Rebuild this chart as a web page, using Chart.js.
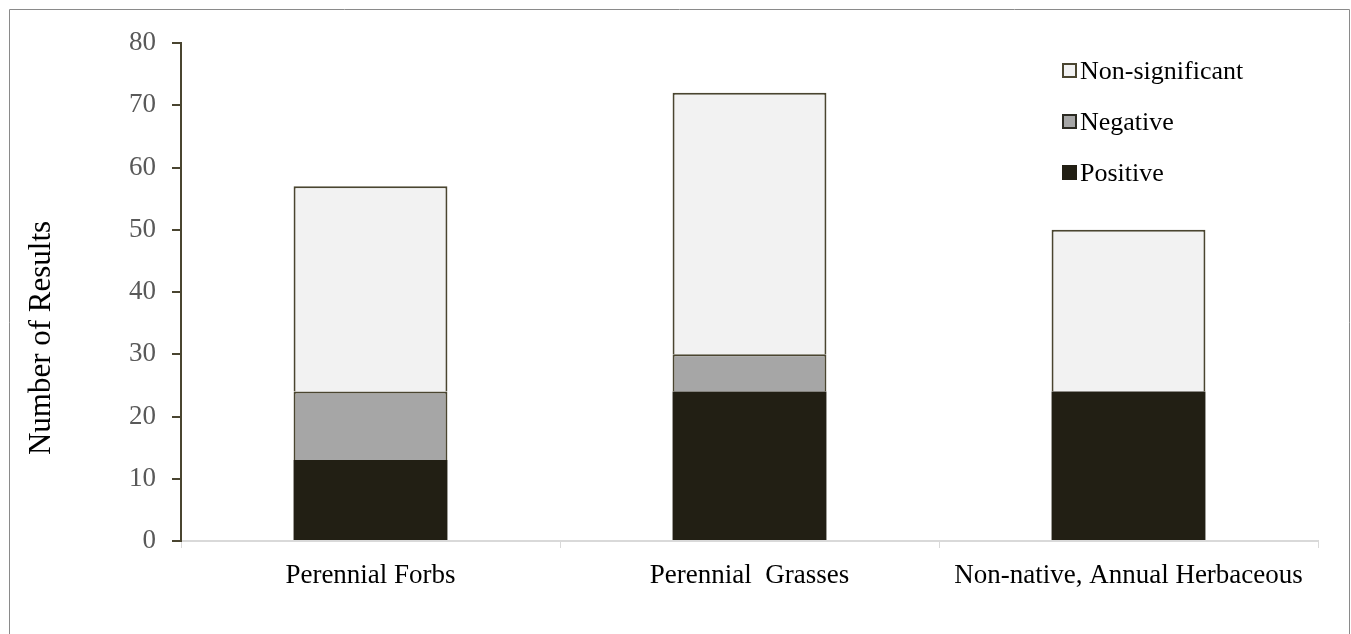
<!DOCTYPE html>
<html>
<head>
<meta charset="utf-8">
<script src="https://cdn.jsdelivr.net/npm/chart.js@4/dist/chart.umd.min.js"></script>
<style>
html,body{margin:0;padding:0;background:#fff;}
#wrap{position:relative;width:1351px;height:634px;}
canvas{display:block;}
</style>
</head>
<body>
<div id="wrap"><canvas id="c" width="1351" height="634"></canvas></div>
<script>
const categories = ["Perennial Forbs", "Perennial  Grasses", "Non-native, Annual Herbaceous"];
const positive = [13, 24, 24];
const negative = [11, 6, 0];
const nonSignificant = [33, 42, 26];
const yTicks = [0, 10, 20, 30, 40, 50, 60, 70, 80];
const seriesNames = ["Positive", "Negative", "Non-significant"];
const yTitle = "Number of Results";

const OLIVE = "#4a4530";
const SERIF = "'Liberation Serif','Times New Roman',serif";

const framePlugin = {
  id: 'frame',
  afterDraw(chart) {
    const ctx = chart.ctx;
    ctx.save();
    ctx.strokeStyle = '#8a8a8a';
    ctx.lineWidth = 1;
    ctx.beginPath();
    ctx.moveTo(9.5, 640);
    ctx.lineTo(9.5, 9.5);
    ctx.lineTo(1349.5, 9.5);
    ctx.lineTo(1349.5, 640);
    ctx.stroke();
    // y-axis title
    ctx.save();
    ctx.translate(42, 338);
    ctx.rotate(-Math.PI / 2);
    ctx.font = "31px " + SERIF;
    ctx.fillStyle = '#000';
    ctx.textAlign = 'center';
    ctx.textBaseline = 'middle';
    ctx.fillText(yTitle, 0, 0);
    ctx.restore();
    ctx.restore();
  }
};

const legendPlugin = {
  id: 'customLegend',
  afterDraw(chart) {
    const ctx = chart.ctx;
    const ds = chart.data.datasets.slice().reverse();
    ctx.save();
    ctx.font = "26px " + SERIF;
    ctx.textBaseline = 'middle';
    ds.forEach((d, i) => {
      const y = 70 + i * 51;
      const x = 1062;
      ctx.fillStyle = d.backgroundColor;
      ctx.fillRect(x, y - 7, 15, 15);
      ctx.strokeStyle = d.legendBorder;
      ctx.lineWidth = 2;
      ctx.strokeRect(x + 1, y - 6, 13, 13);
      ctx.fillStyle = '#000';
      ctx.fillText(d.label, x + 18, y + 2);
    });
    ctx.restore();
  }
};

new Chart(document.getElementById('c'), {
  type: 'bar',
  data: {
    labels: categories,
    datasets: [
      { label: seriesNames[0], data: positive, backgroundColor: '#221f14', borderColor: '#221f14', borderWidth: 0, legendBorder: '#221f14' },
      { label: seriesNames[1], data: negative, backgroundColor: '#a6a6a6', borderColor: OLIVE, borderWidth: 2, legendBorder: '#2b2a22' },
      { label: seriesNames[2], data: nonSignificant, backgroundColor: '#f2f2f2', borderColor: OLIVE, borderWidth: 2, legendBorder: OLIVE }
    ]
  },
  options: {
    responsive: false,
    animation: false,
    events: [],
    layout: { padding: { left: 0, top: 43, right: 33, bottom: 0 } },
    plugins: { legend: { display: false }, tooltip: { enabled: false } },
    datasets: { bar: { categoryPercentage: 1, barPercentage: 0.406 } },
    scales: {
      x: {
        stacked: true,
        offset: true,
        afterFit(s) { s.height = 93; },
        grid: { offset: true, drawOnChartArea: false, drawTicks: true, tickLength: 7, color: '#d9d9d9', lineWidth: 1 },
        border: { color: '#d9d9d9', width: 2 },
        ticks: { color: '#000', font: { family: SERIF, size: 27 }, padding: 12, maxRotation: 0, autoSkip: false }
      },
      y: {
        stacked: true,
        min: 0, max: 80,
        afterFit(s) { s.width = 181; },
        afterBuildTicks(s) { s.ticks = yTicks.map(v => ({ value: v })); },
        grid: { drawOnChartArea: false, drawTicks: true, tickLength: 9, color: OLIVE, lineWidth: 2 },
        border: { color: OLIVE, width: 2 },
        ticks: { color: '#595959', font: { family: SERIF, size: 27 }, padding: 16 }
      }
    }
  },
  plugins: [framePlugin, legendPlugin]
});
</script>
</body>
</html>
